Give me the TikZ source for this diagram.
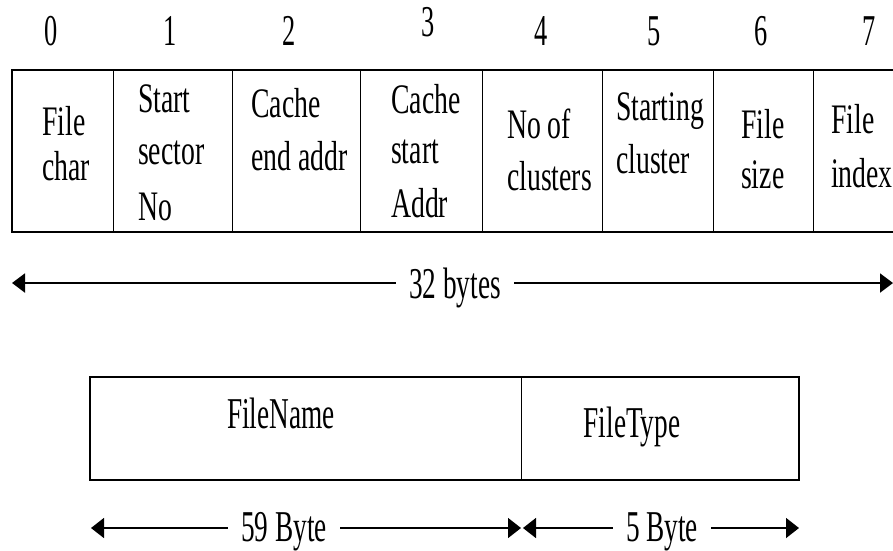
\documentclass[tikz,border=0pt]{standalone}
\usepackage{fontspec}
\setmainfont{Liberation Serif}[FakeStretch=0.66]
\newfontfamily\digitfont{Liberation Serif}[FakeStretch=0.60]
\newfontfamily\labelfont{Liberation Serif}[FakeStretch=0.62]
\usetikzlibrary{arrows.meta}
\tikzset{
  frame/.style={line width=2.6pt},
  divider/.style={line width=0.9pt},
  idx/.style={anchor=base, inner sep=0pt, font=\digitfont\fontsize{44}{50}\selectfont},
  cell/.style={anchor=base west, inner sep=0pt, font=\fontsize{42}{52}\selectfont},
  lab/.style={anchor=base, inner xsep=13pt, inner ysep=0pt, font=\labelfont\fontsize{44}{50}\selectfont},
  boxtext/.style={anchor=base, inner sep=0pt, font=\labelfont\fontsize{44}{50}\selectfont},
  dimthick/.style={line width=2pt, -{Triangle[length=13pt,width=19pt]}},
  dimthin/.style={line width=1.5pt, -{Triangle[length=13pt,width=20pt]}},
}
\newcommand{\cellstack}[1]{\begin{tabular}[t]{@{}l@{}}#1\end{tabular}}
\begin{document}
\begin{tikzpicture}[x=1pt,y=-1pt]
\useasboundingbox (0,0) rectangle (893,550);

% ---- top record: frame and dividers
\draw[frame] (12,70) rectangle (910,232);
\foreach \xx in {113,232,360,482,602,713,813}
  \draw[divider] (\xx,70) -- (\xx,232);

% ---- byte indices
\node[idx] (h0) at (51,45) {0};
\node[idx] (h1) at (170,45) {1};
\node[idx] (h2) at (289,45) {2};
\node[idx] (h3) at (428,36) {3};
\node[idx] (h4) at (541,45) {4};
\node[idx] (h5) at (654,45) {5};
\node[idx] (h6) at (761,45) {6};
\node[idx] (h7) at (869,45) {7};

% ---- cell texts
\node[cell] (c0) at (42,135)  {\cellstack{File\\[-7pt]char}};
\node[cell] (c1) at (138,112) {\cellstack{Start\\sector\\[4pt]No}};
\node[cell] (c2) at (251,117) {\cellstack{Cache\\[1pt]end addr}};
\node[cell] (c3) at (391,113) {\cellstack{Cache\\[-2pt]start\\[2pt]Addr}};
\node[cell] (c4) at (507,138) {\cellstack{No of\\clusters}};
\node[cell] (c5) at (616,120) {\cellstack{Starting\\[1pt]cluster}};
\node[cell] (c6) at (741,138) {\cellstack{File\\[-2pt]size}};
\node[cell] (c7) at (831,133) {\cellstack{File\\[2pt]index}};

% ---- 32 bytes dimension
\coordinate (tL) at (12,283);
\coordinate (tR) at (893,283);
\node[lab] (t32) at (455,298) {32 bytes};
\draw[dimthick] (t32.west |- tL) -- (tL);
\draw[dimthick] (t32.east |- tR) -- (tR);

% ---- bottom record
\draw[frame] (90,377) rectangle (799,480);
\draw[divider] (521,377) -- (521,480);
\node[boxtext] (fname) at (281,428) {FileName};
\node[boxtext] (ftype) at (632,437) {FileType};

% ---- bottom dimensions
\coordinate (bL) at (91,528);
\coordinate (bM1) at (521,528);
\coordinate (bM2) at (523,528);
\coordinate (bR) at (799,528);
\node[lab] (b59) at (284,541) {59 Byte};
\node[lab] (b5) at (662,541) {5 Byte};
\draw[dimthin] (b59.west |- bL) -- (bL);
\draw[dimthin] (b59.east |- bM1) -- (bM1);
\draw[dimthin] (b5.west |- bM2) -- (bM2);
\draw[dimthin] (b5.east |- bR) -- (bR);
\end{tikzpicture}
\end{document}
